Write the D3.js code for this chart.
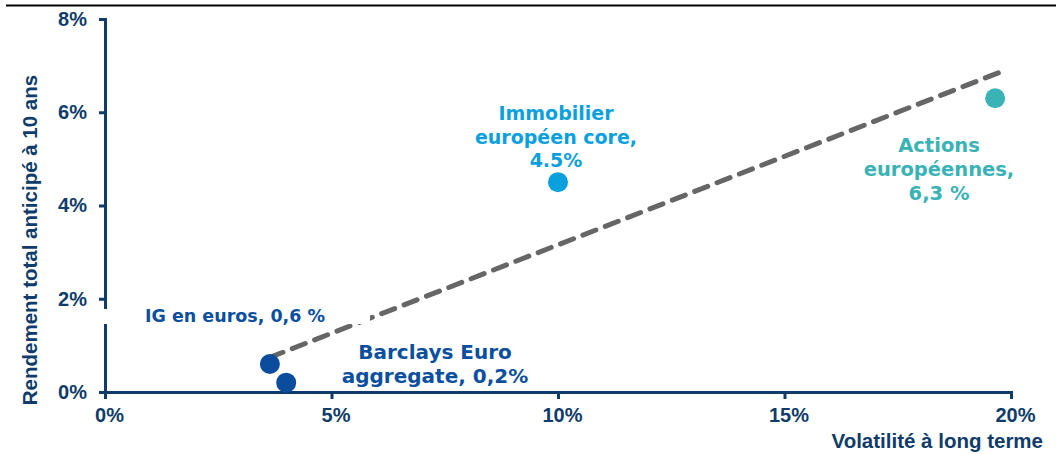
<!DOCTYPE html>
<html>
<head>
<meta charset="utf-8">
<script src="https://cdn.jsdelivr.net/npm/d3@7"></script>
<style>
  html, body { margin: 0; padding: 0; background: #fff; }
  svg { display: block; }
</style>
</head>
<body>
<svg id="chart" width="1056" height="454"></svg>
<script>
// Asset classes: long-term volatility (%) vs expected 10-year total return (%)
const assets = ["IG en euros", "Barclays Euro aggregate", "Immobilier européen core", "Actions européennes"];
const volatility = [3.64, 4.0, 10.0, 19.65];
const expectedReturn = [0.6, 0.2, 4.5, 6.3];
const pointColors = ["#0b4d9c", "#0b4d9c", "#0aa0de", "#39b3b5"];
const labelLines = [
  ["IG en euros, 0,6 %"],
  ["Barclays Euro", "aggregate, 0,2%"],
  ["Immobilier", "européen core,", "4.5%"],
  ["Actions", "européennes,", "6,3 %"]
];
const xTicks = [0, 5, 10, 15, 20];
const yTicks = [0, 2, 4, 6, 8];

const svg = d3.select("#chart");
const navy = "#0f3c6a";
const fontFamily = "'Liberation Sans', Arial, sans-serif";
const labelFont = "'DejaVu Sans', Verdana, sans-serif";

const x = d3.scaleLinear().domain([0, 20]).range([105, 1011]);
const y = d3.scaleLinear().domain([0, 8]).range([392, 19]);

// Rule across the top
svg.append("line")
  .attr("x1", 6).attr("x2", 1056).attr("y1", 5.5).attr("y2", 5.5)
  .attr("stroke", "#000").attr("stroke-width", 2);

// X axis
const xAxis = svg.append("g")
  .attr("transform", `translate(0,${y(0)})`)
  .call(d3.axisBottom(x).tickValues(xTicks).tickFormat(d => d + "%").tickSizeOuter(0).tickSize(7).tickPadding(9));

// Y axis
const yAxis = svg.append("g")
  .attr("transform", `translate(${x(0)},0)`)
  .call(d3.axisLeft(y).tickValues(yTicks).tickFormat(d => d + "%").tickSizeOuter(0).tickSize(6).tickPadding(12));

[xAxis, yAxis].forEach(g => {
  g.select(".domain").attr("stroke", navy).attr("stroke-width", 3);
  g.selectAll(".tick line").attr("stroke", navy).attr("stroke-width", 3);
  g.selectAll(".tick text")
    .attr("fill", navy)
    .style("font-family", fontFamily)
    .style("font-weight", "bold")
    .style("font-size", "20px");
});
xAxis.selectAll(".tick text").attr("dx", 4);

// Axis titles
svg.append("text")
  .attr("transform", `translate(37,240) rotate(-90)`)
  .attr("text-anchor", "middle")
  .attr("fill", navy)
  .style("font-family", fontFamily)
  .style("font-weight", "bold")
  .style("font-size", "20.5px")
  .text("Rendement total anticipé à 10 ans");

svg.append("text")
  .attr("x", 1043).attr("y", 448)
  .attr("text-anchor", "end")
  .attr("fill", navy)
  .style("font-family", fontFamily)
  .style("font-weight", "bold")
  .style("font-size", "20.5px")
  .text("Volatilité à long terme");

// Least-squares trend line through the four assets
const mx = d3.mean(volatility), my = d3.mean(expectedReturn);
const sxy = d3.sum(volatility, (v, i) => (v - mx) * (expectedReturn[i] - my));
const sxx = d3.sum(volatility, v => (v - mx) * (v - mx));
const slope = sxy / sxx, intercept = my - slope * mx;
const trendX = [d3.min(volatility), d3.max(volatility) + 0.11];

svg.append("line")
  .attr("x1", x(trendX[0])).attr("y1", y(intercept + slope * trendX[0]))
  .attr("x2", x(trendX[1])).attr("y2", y(intercept + slope * trendX[1]))
  .attr("stroke", "#666666")
  .attr("stroke-width", 5)
  .attr("stroke-linecap", "round")
  .attr("stroke-dasharray", "14 10");

// Points
svg.selectAll("circle.asset")
  .data(assets)
  .join("circle")
  .attr("class", "asset")
  .attr("cx", (d, i) => x(volatility[i]))
  .attr("cy", (d, i) => y(expectedReturn[i]))
  .attr("r", 10)
  .attr("fill", (d, i) => pointColors[i]);

// Data labels
const labelPos = [
  { cx: 235, top: 322, size: 17.5, lh: 23, box: true },
  { cx: 435, top: 359, size: 20, lh: 24 },
  { cx: 556, top: 120, size: 19, lh: 23.5 },
  { cx: 939, top: 152, size: 19.5, lh: 24 }
];
const labelColors = ["#0b4f9f", "#0b4f9f", "#0aa0de", "#39b3b5"];

labelLines.forEach((lines, i) => {
  const p = labelPos[i];
  if (p.box) {
    svg.append("rect")
      .attr("x", 102).attr("y", 309)
      .attr("width", 268).attr("height", 15)
      .attr("fill", "#fff");
  }
  const t = svg.append("text")
    .attr("text-anchor", "middle")
    .attr("fill", labelColors[i])
    .style("font-family", labelFont)
    .style("font-weight", "bold")
    .style("font-size", p.size + "px");
  lines.forEach((line, k) => {
    t.append("tspan").attr("x", p.cx).attr("y", p.top + k * p.lh).text(line);
  });
});
</script>
</body>
</html>
